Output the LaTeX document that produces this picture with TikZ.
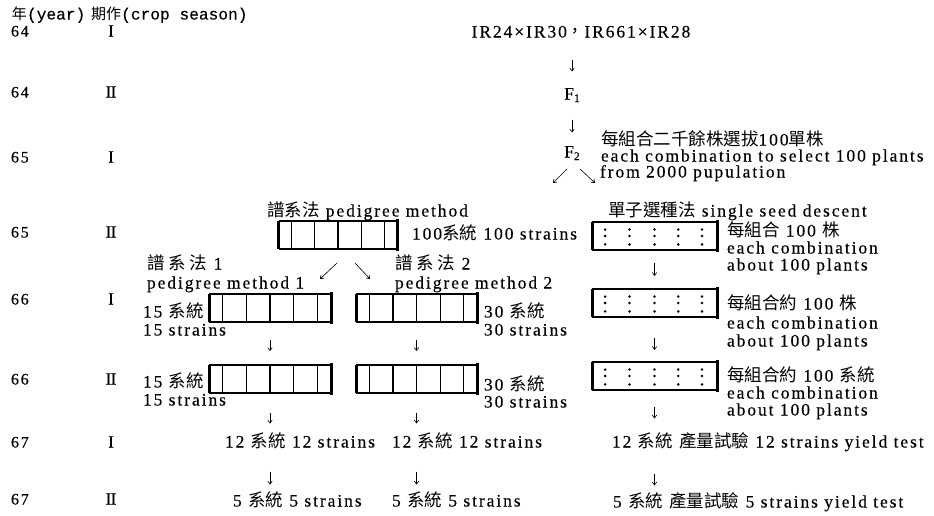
\documentclass[tikz,border=0pt]{standalone}
\usepackage{fontspec}
\setmainfont{Liberation Serif}[LetterSpace=11,FakeBold=0.3]
\newfontfamily\cjkfont{Noto Sans CJK TC}[Scale=1.0]
\newfontfamily\monofont{Liberation Mono}[FakeBold=0.3]
\newfontfamily\plainserif{Liberation Serif}[FakeBold=0.3]
\usetikzlibrary{calc,arrows.meta}
\newcommand\fsub[1]{\raisebox{-2.5pt}{\fontsize{11.5}{11.5}\selectfont #1}}
\newcommand\rnI{{\plainserif\fontsize{17}{17}\selectfont I}}
\newcommand\rnII{{\plainserif\fontsize{17}{17}\selectfont I\kern-0.6pt I}}
\newcommand\pedbox[4]{%
  \node[boxnode, minimum width=#4pt] (#1) at (#2,#3) {};
  \draw[boxedge] (#1.north west) -- (#1.north east);
  \draw[boxedge] (#1.south west) -- (#1.south east);
  \draw[boxbar] (#1.north west) -- (#1.south west);
  \draw[boxbar] ([yshift=2pt]#1.north east) -- ([yshift=-2pt]#1.south east);
  \foreach \f in {0.11,0.305,0.5,0.695,0.89}{%
    \draw[boxin] ($(#1.north west)!\f!(#1.north east)$) -- ($(#1.south west)!\f!(#1.south east)$);}
}
\newcommand\dotbox[4]{%
  \node[boxnode, minimum width=#4pt] (#1) at (#2,#3) {};
  \draw[boxedge] (#1.north west) -- (#1.north east);
  \draw[boxedge] (#1.south west) -- (#1.south east);
  \draw[boxbar] (#1.north west) -- (#1.south west);
  \draw[boxbar] ([yshift=2pt]#1.north east) -- ([yshift=-2pt]#1.south east);
  \foreach \f in {0.105,0.3,0.5,0.69,0.88}{%
    \foreach \g in {0.27,0.5,0.8}{%
      \fill ({#2-#4/2+\f*#4},{#3-14+\g*28}) circle[radius=1.4pt];}}
}
\begin{document}
\begin{tikzpicture}[x=1pt,y=-1pt,
  every node/.style={inner sep=0pt,outer sep=0pt},
  txt/.style={anchor=west,font=\fontsize{17.5}{18}\selectfont,text height=12pt,text depth=3pt},
  ctxt/.style={txt,anchor=center},
  yrs/.style={txt,font=\fontsize{16}{16}\selectfont},
  arr/.style={-{Straight Barb[length=3pt,width=4.5pt]},line width=0.6pt},
  boxnode/.style={minimum height=28pt,draw=none},
  boxedge/.style={line width=2.4pt},
  boxbar/.style={line width=3pt},
  boxin/.style={line width=1.2pt}]
\fill[white] (0,0) rectangle (934,515);
\useasboundingbox (0,0) rectangle (934,515);

% header
\node[txt,font=\fontsize{16.2}{16.2}\selectfont] (hdr) at (12,15)
  {{\cjkfont\fontsize{15}{15}\selectfont 年}{\monofont (year)} {\cjkfont\fontsize{15}{15}\selectfont 期作}{\monofont (crop season)}};

% years and seasons
\foreach \yr/\rn/\yy in {64/\rnI/32,64/\rnII/93,65/\rnI/158,65/\rnII/233,66/\rnI/300,66/\rnII/380,67/\rnI/443,67/\rnII/500}{%
  \node[yrs] (yr\yy) at (11,\yy) {\yr};
  \node[ctxt] (rn\yy) at (111,\yy) {\rn};
}

% crosses
\node[ctxt] (cross) at (581,33) {IR24×IR30{\cjkfont ，}IR661×IR28};
\node[ctxt] (F1) at (572,95) {F\fsub{1}};
\node[ctxt] (F2) at (572,153) {F\fsub{2}};
\draw[arr,shorten <=19pt,shorten >=16pt] (cross.south -| F1.north) -- (F1.north);
\draw[arr,shorten <=17pt,shorten >=13pt] (F1.south) -- (F2.north);
\node[txt] (f2a) at (601,141) {{\cjkfont 每組合二千餘株選拔}100{\cjkfont 單株}};
\node[txt] (f2b) at (601,157) {each combination to select 100 plants};
\node[txt] (f2c) at (600,173) {from 2000 pupulation};
\coordinate (dA1) at (567,169); \coordinate (dA2) at (553,183);
\coordinate (dB1) at (580,169); \coordinate (dB2) at (595,183);
\draw[arr] (dA1) -- (dA2);
\draw[arr] (dB1) -- (dB2);

% pedigree
\node[txt] (pedh) at (267,212) {{\cjkfont 譜系法} pedigree method};
\pedbox{pb0}{338}{235}{119}
\node[txt] (s100) at (412,235) {100{\cjkfont 系統} 100 strains};
\coordinate (dC1) at (337,263); \coordinate (dC2) at (320,279);
\coordinate (dD1) at (355,263); \coordinate (dD2) at (370,279);
\draw[arr] (dC1) -- (dC2);
\draw[arr] (dD1) -- (dD2);
\node[txt] (pm1a) at (147,265) {{\cjkfont 譜\ 系\ 法}\ 1};
\node[txt] (pm1b) at (147,284) {pedigree method 1};
\node[txt] (pm2a) at (395,265) {{\cjkfont 譜\ 系\ 法}\ 2};
\node[txt] (pm2b) at (395,284) {pedigree method 2};
\pedbox{pb1}{270}{308}{122}
\pedbox{pb2}{416.5}{308}{121}
\node[txt] (l15a) at (143,313) {15 {\cjkfont 系統}};
\node[txt] (l15b) at (143,331) {15 strains};
\node[txt] (l30a) at (484,313) {30 {\cjkfont 系統}};
\node[txt] (l30b) at (484,331) {30 strains};
\pedbox{pb3}{270}{379}{122}
\pedbox{pb4}{416.5}{379}{121}
\node[txt] (l15c) at (143,383) {15 {\cjkfont 系統}};
\node[txt] (l15d) at (143,401) {15 strains};
\node[txt] (l30c) at (484,386) {30 {\cjkfont 系統}};
\node[txt] (l30d) at (484,403) {30 strains};
\node[txt] (t12a) at (225,443) {12 {\cjkfont 系統}\ 12 strains};
\node[txt] (t12b) at (392,443) {12 {\cjkfont 系統}\ 12 strains};
\node[txt] (t5a) at (233,502) {5 {\cjkfont 系統}\ 5 strains};
\node[txt] (t5b) at (392,502) {5 {\cjkfont 系統}\ 5 strains};
\draw[arr,shorten <=18pt,shorten >=14pt] (pb1.south) -- (pb3.north);
\draw[arr,shorten <=18pt,shorten >=14pt] (pb2.south) -- (pb4.north);
\draw[arr,shorten <=20pt,shorten >=12pt] (pb3.south) -- (pb3.south |- t12a.north);
\draw[arr,shorten <=20pt,shorten >=12pt] (pb4.south) -- (pb4.south |- t12b.north);
\draw[arr,shorten <=21pt,shorten >=10pt] (pb3.south |- t12a.south) -- (pb3.south |- t5a.north);
\draw[arr,shorten <=21pt,shorten >=10pt] (pb4.south |- t12b.south) -- (pb4.south |- t5b.north);

% single seed descent
\node[txt] (ssdh) at (608,212) {{\cjkfont 單子選種法} single seed descent};
\dotbox{sb1}{654.5}{236}{125}
\dotbox{sb2}{654.5}{303}{125}
\dotbox{sb3}{654.5}{376}{125}
\node[txt] (c1a) at (727,232) {{\cjkfont 每組合} 100 {\cjkfont 株}};
\node[txt] (c1b) at (727,249) {each combination};
\node[txt] (c1c) at (727,266) {about 100 plants};
\node[txt] (c2a) at (727,305) {{\cjkfont 每組合約} 100 {\cjkfont 株}};
\node[txt] (c2b) at (727,324) {each combination};
\node[txt] (c2c) at (727,342) {about 100 plants};
\node[txt] (c3a) at (727,377) {{\cjkfont 每組合約} 100 {\cjkfont 系統}};
\node[txt] (c3b) at (727,394) {each combination};
\node[txt] (c3c) at (727,411) {about 100 plants};
\node[txt] (y12) at (612,443) {12 {\cjkfont 系統}\ {\cjkfont 產量試驗} 12 strains yield test};
\node[txt] (y5) at (613,503) {5 {\cjkfont 系統}\ {\cjkfont 產量試驗} 5 strains yield test};
\draw[arr,shorten <=13pt,shorten >=13pt] (sb1.south) -- (sb2.north);
\draw[arr,shorten <=21pt,shorten >=12pt] (sb2.south) -- (sb3.north);
\draw[arr,shorten <=17pt,shorten >=17pt] (sb3.south) -- (sb3.south |- y12.north);
\draw[arr,shorten <=23pt,shorten >=10pt] (sb3.south |- y12.south) -- (sb3.south |- y5.north);
\end{tikzpicture}
\end{document}
